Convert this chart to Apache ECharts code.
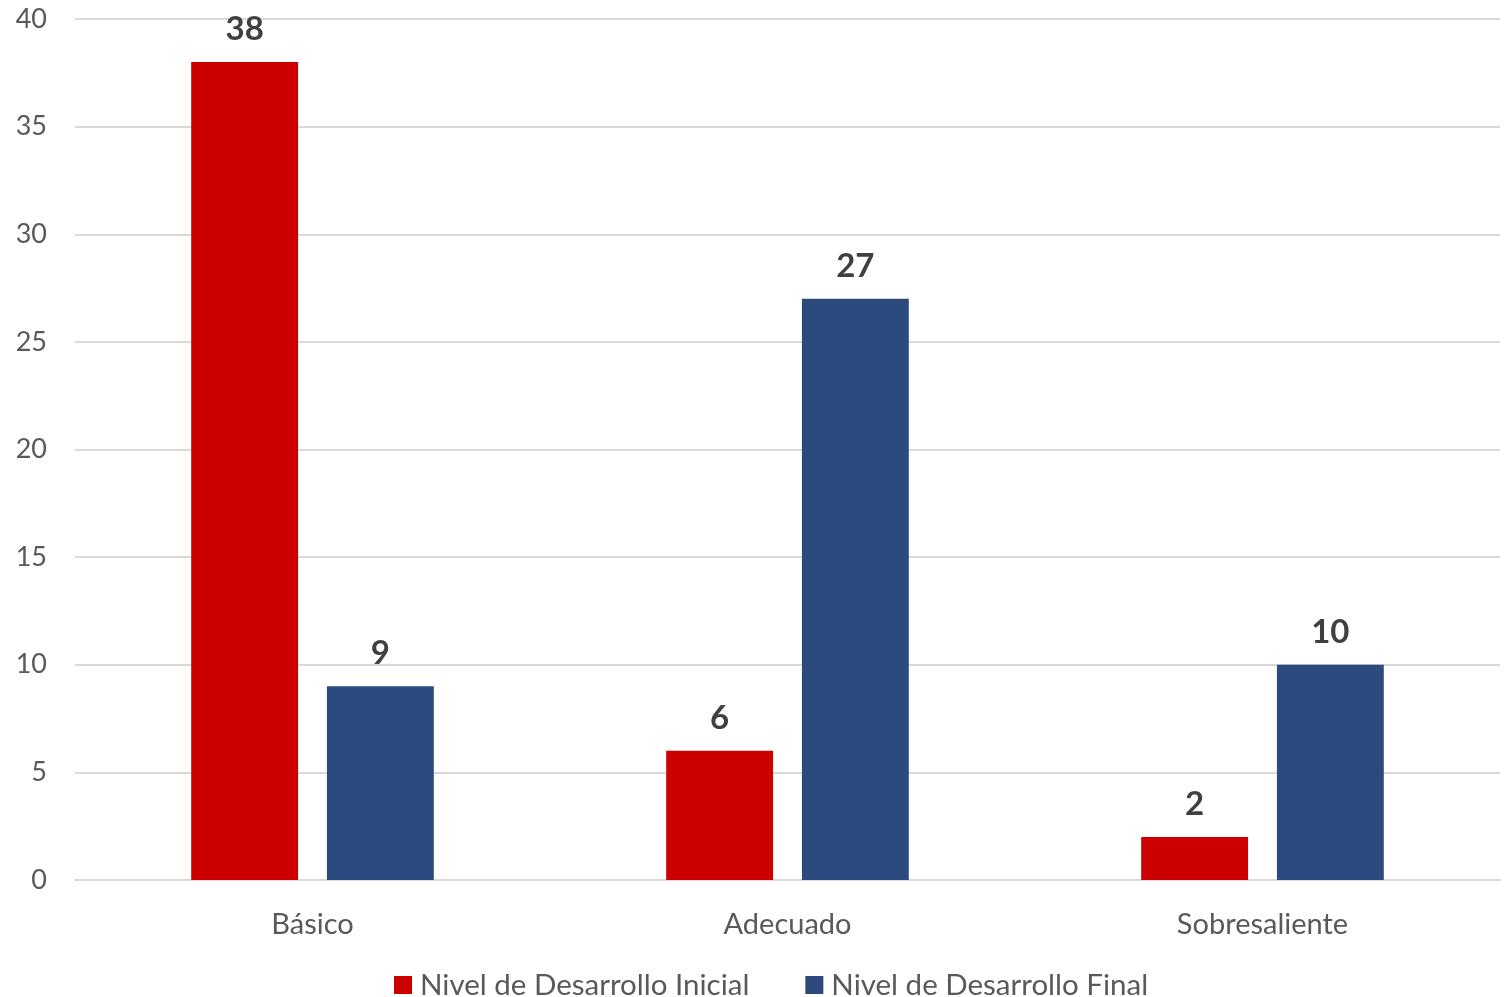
<!DOCTYPE html>
<html>
<head>
<meta charset="utf-8">
<script src="https://cdn.jsdelivr.net/npm/echarts@6/dist/echarts.min.js"></script>
<style>
  html, body { margin: 0; padding: 0; background: #fff; }
  #chart { width: 1506px; height: 997px; }
</style>
</head>
<body>
<div id="chart"></div>
<script>
const categories = ['Básico', 'Adecuado', 'Sobresaliente'];
const inicialValues = [38, 6, 2];
const finalValues = [9, 27, 10];
const yTicks = { min: 0, max: 40, interval: 5 };

const chart = echarts.init(document.getElementById('chart'));

const labelStyle = {
  show: true,
  position: 'top',
  distance: 16,
  color: '#404040',
  fontSize: 33,
  fontWeight: 'bold',
  fontFamily: 'Lato'
};

chart.setOption({
  animation: false,
  textStyle: { fontFamily: 'Lato' },
  grid: { left: 75, right: 6, top: 19, bottom: 117, containLabel: false },
  legend: {
    bottom: -8,
    left: 389,
    itemWidth: 18,
    itemHeight: 18,
    itemGap: 56,
    icon: 'rect',
    textStyle: { color: '#595959', fontSize: 29.5, fontFamily: 'Lato', padding: [0, 0, 0, 3] },
    data: ['Nivel de Desarrollo Inicial', 'Nivel de Desarrollo Final']
  },
  xAxis: {
    type: 'category',
    data: categories,
    axisLine: { lineStyle: { color: '#D9D9D9', width: 2 } },
    axisTick: { show: false },
    axisLabel: { color: '#595959', fontSize: 29, margin: 30 }
  },
  yAxis: {
    type: 'value',
    min: yTicks.min,
    max: yTicks.max,
    interval: yTicks.interval,
    axisLine: { show: false },
    axisTick: { show: false },
    axisLabel: { color: '#595959', fontSize: 27, margin: 28 },
    splitLine: { lineStyle: { color: '#D9D9D9', width: 2 } }
  },
  series: [
    {
      name: 'Nivel de Desarrollo Inicial',
      type: 'bar',
      data: inicialValues,
      barWidth: '22.5%',
      barGap: '27%',
      itemStyle: { color: '#CC0000' },
      label: labelStyle
    },
    {
      name: 'Nivel de Desarrollo Final',
      type: 'bar',
      data: finalValues,
      barWidth: '22.5%',
      itemStyle: { color: '#2D4A7E' },
      label: labelStyle
    }
  ]
});
</script>
</body>
</html>
